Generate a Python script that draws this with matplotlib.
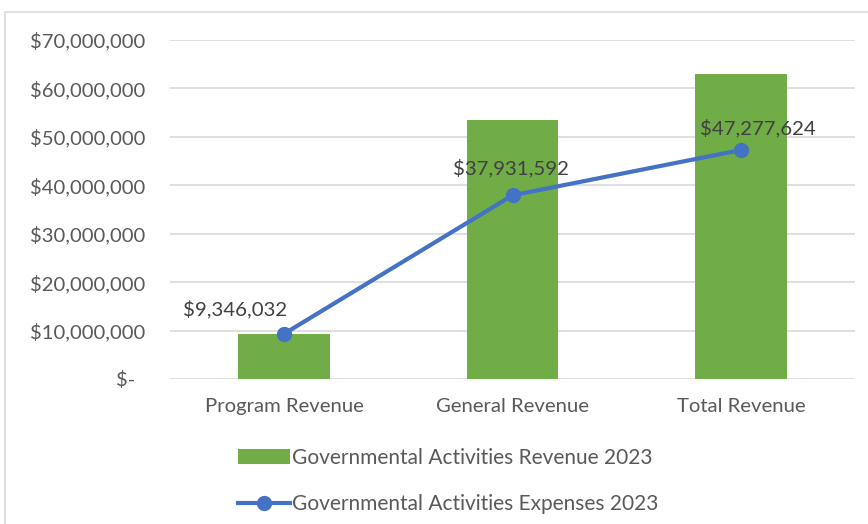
import matplotlib
matplotlib.use("Agg")
import matplotlib.pyplot as plt
from matplotlib.patches import Rectangle
from matplotlib.ticker import FuncFormatter

categories = ["Program Revenue", "General Revenue", "Total Revenue"]
revenue_2023 = [9346032, 53500000, 62900000]
expenses_2023 = [9346032, 37931592, 47277624]
series_names = ["Governmental Activities Revenue 2023", "Governmental Activities Expenses 2023"]

plt.rcParams['font.family'] = ['Lato', 'DejaVu Sans']
TXT = '#595959'
GREEN = '#70AD47'
BLUE = '#4472C4'

fig = plt.figure(figsize=(8.68, 5.24), dpi=100)
fig.patches.append(Rectangle((5/868, -0.1), 1.0, 1 - 12/524 + 0.1, transform=fig.transFigure,
                             fill=False, edgecolor='#D9D9D9', linewidth=1.2))
ax = fig.add_axes([170/868, 1 - 379/524, 685/868, (379 - 40)/524])
x = list(range(len(categories)))
bars = ax.bar(x, revenue_2023, width=0.4, color=GREEN, zorder=2, label=series_names[0])
line, = ax.plot(x, expenses_2023, color=BLUE, linewidth=3, marker='o', markersize=10,
                zorder=3, label=series_names[1])

ax.set_xlim(-0.5, 2.5)
ax.set_ylim(0, 70000000)
ax.set_yticks(range(0, 70000001, 10000000))

def fmt(v, pos):
    if v == 0:
        return "$-  "
    return "${:,.0f}".format(v)
ax.yaxis.set_major_formatter(FuncFormatter(fmt))
ax.set_xticks(x)
ax.set_xticklabels(categories)
ax.tick_params(axis='both', length=0, colors=TXT, labelsize=14.6)
ax.tick_params(axis='y', pad=18)
ax.tick_params(axis='x', pad=14)
for s in ax.spines.values():
    s.set_visible(False)
ax.grid(axis='y', color='#D9D9D9', linewidth=1.2, zorder=0)
ax.set_axisbelow(True)

offsets = [(-49, 25), (-2, 27), (17, 22)]
for xi, v, (dx, dy) in zip(x, expenses_2023, offsets):
    ax.annotate("${:,.0f}".format(v), (xi, v), xytext=(dx, dy), textcoords='offset pixels',
                ha='center', va='center', fontsize=14.7, color='#404040', zorder=4)

leg = fig.legend(handles=[bars, line], loc='center', bbox_to_anchor=(448/868, 1 - 481/524),
                 ncol=1, frameon=False, fontsize=15, labelcolor=TXT, handlelength=2.5,
                 handletextpad=0.1, labelspacing=1.25)
fig.savefig("out.png", dpi=100)
